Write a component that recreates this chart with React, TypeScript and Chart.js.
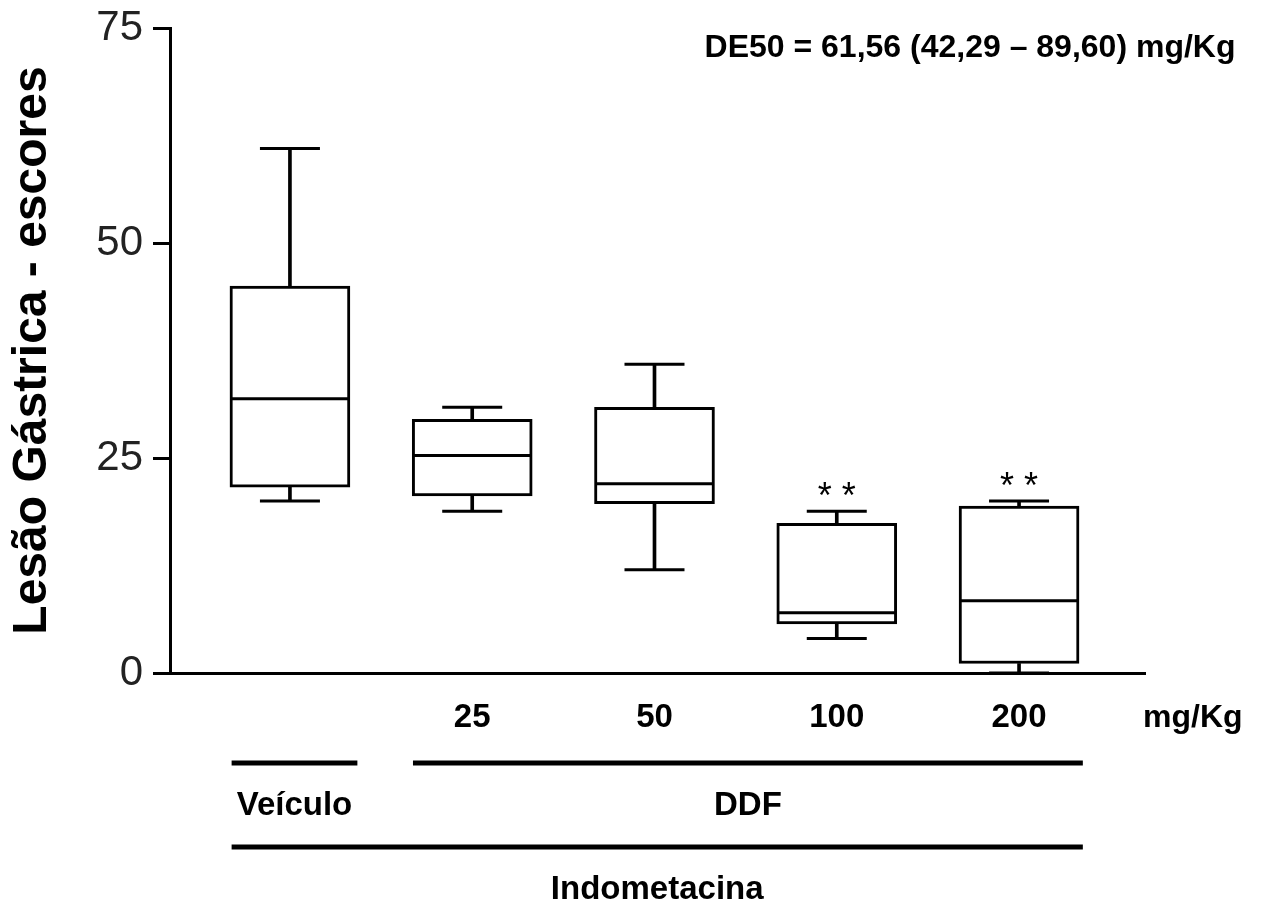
import React, { useEffect, useRef } from "react";
import { Chart, registerables } from "chart.js";

Chart.register(...registerables);

const FONT = "'Liberation Sans', Arial, Helvetica, sans-serif";

// ---- data ----
const groups = ["Veículo", "DDF 25", "DDF 50", "DDF 100", "DDF 200"];
const doseLabels = ["", "25", "50", "100", "200"];
const whiskerMax = [61.0, 30.9, 35.9, 18.8, 20.0];
const q3 = [45.0, 29.5, 30.9, 17.4, 19.4];
const median = [31.9, 25.3, 22.0, 7.0, 8.4];
const q1 = [21.6, 20.6, 19.7, 5.7, 1.1];
const whiskerMin = [20.0, 18.8, 12.0, 4.0, 0.0];
const significance = ["", "", "", "* *", "* *"];
const yTicks = [0, 25, 50, 75];
const yTitle = "Lesão Gástrica - escores";
const unitLabel = "mg/Kg";
const de50Text = "DE50 = 61,56 (42,29 – 89,60) mg/Kg";
const groupBrackets = [
  { label: "Veículo", from: 0.68, to: 1.37, row: 0 },
  { label: "DDF", from: 1.675, to: 5.35, row: 0 },
  { label: "Indometacina", from: 0.68, to: 5.35, row: 1 },
];

const positions = groups.map((_, i) => i + 1);

const annotationPlugin = {
  id: "annotations",
  afterDraw(chart: any) {
    const ctx = chart.ctx as CanvasRenderingContext2D;
    const xs = chart.scales.x;
    const ys = chart.scales.y;
    const area = chart.chartArea;
    ctx.save();
    ctx.fillStyle = "#000";
    ctx.strokeStyle = "#000";

    // DE50 text
    ctx.font = `bold 32px ${FONT}`;
    ctx.textAlign = "center";
    ctx.textBaseline = "alphabetic";
    ctx.fillText(de50Text, area.right - 175, area.top + 29);

    // significance asterisks
    ctx.font = `36px ${FONT}`;
    significance.forEach((s, i) => {
      if (!s) return;
      const x = xs.getPixelForValue(positions[i]);
      const y = ys.getPixelForValue(whiskerMax[i]) - 3;
      ctx.fillText(s, x, y);
    });

    // unit label
    ctx.font = `bold 32px ${FONT}`;
    ctx.textAlign = "left";
    ctx.fillText(unitLabel, area.right - 2, area.bottom + 54);

    // group brackets
    ctx.lineWidth = 5;
    ctx.textAlign = "center";
    groupBrackets.forEach((g) => {
      const x0 = xs.getPixelForValue(g.from);
      const x1 = xs.getPixelForValue(g.to);
      const lineY = area.bottom + 90 + g.row * 84;
      ctx.beginPath();
      ctx.moveTo(x0, lineY);
      ctx.lineTo(x1, lineY);
      ctx.stroke();
      ctx.font = `bold 33px ${FONT}`;
      ctx.fillText(g.label, (x0 + x1) / 2, lineY + 52);
    });
    ctx.restore();
  },
};

export default function App() {
  const canvasRef = useRef<HTMLCanvasElement | null>(null);

  useEffect(() => {
    if (!canvasRef.current) return;
    const chart = new Chart(canvasRef.current, {
      type: "bar",
      data: {
        datasets: [
          {
            type: "scatter",
            label: "median",
            data: positions.map((x, i) => ({ x, y: median[i] })),
            pointStyle: "line",
            pointRadius: 59,
            borderWidth: 3,
            borderColor: "#000",
            backgroundColor: "#000",
            clip: false,
          } as any,
          {
            type: "scatter",
            label: "caps",
            data: positions.flatMap((x, i) => [
              { x, y: whiskerMax[i] },
              { x, y: whiskerMin[i] },
            ]),
            pointStyle: "line",
            pointRadius: 30,
            borderWidth: 3,
            borderColor: "#000",
            backgroundColor: "#000",
            clip: false,
          } as any,
          {
            type: "bar",
            label: "box",
            data: positions.map((x, i) => ({ x, y: [q1[i], q3[i]] })),
            backgroundColor: "#fff",
            borderColor: "#000",
            borderWidth: 3,
            borderSkipped: false,
            barThickness: 120,
            grouped: false,
          } as any,
          {
            type: "bar",
            label: "upper whisker",
            data: positions.map((x, i) => ({ x, y: [q3[i], whiskerMax[i]] })),
            backgroundColor: "#000",
            borderWidth: 0,
            barThickness: 3,
            grouped: false,
          } as any,
          {
            type: "bar",
            label: "lower whisker",
            data: positions.map((x, i) => ({ x, y: [whiskerMin[i], q1[i]] })),
            backgroundColor: "#000",
            borderWidth: 0,
            barThickness: 3,
            grouped: false,
          } as any,
        ],
      },
      options: {
        responsive: false,
        animation: false,
        events: [],
        layout: { autoPadding: false, padding: { top: 28, right: 116, left: 0, bottom: 0 } },
        plugins: {
          legend: { display: false },
          tooltip: { enabled: false },
          title: { display: false },
        },
        scales: {
          x: {
            type: "linear",
            min: 0.342,
            max: 5.691,
            offset: false,
            afterBuildTicks: (s: any) => {
              s.ticks = positions.map((v) => ({ value: v }));
            },
            afterFit: (s: any) => {
              s.height = 231;
              s.paddingLeft = 0;
              s.paddingRight = 0;
            },
            ticks: {
              autoSkip: false,
              maxRotation: 0,
              padding: 25,
              color: "#000",
              font: { family: FONT, size: 33, weight: "bold" },
              callback: (v: any) => doseLabels[Math.round(Number(v)) - 1] ?? "",
            },
            grid: { display: false, drawTicks: false },
            border: { display: true, color: "#000", width: 3 },
          },
          y: {
            type: "linear",
            min: 0,
            max: 75,
            afterBuildTicks: (s: any) => {
              s.ticks = yTicks.map((v) => ({ value: v }));
            },
            afterFit: (s: any) => {
              s.width = 170;
              s.paddingTop = 0;
              s.paddingBottom = 0;
            },
            ticks: {
              padding: 10,
              color: "#222",
              font: { family: FONT, size: 42 },
            },
            grid: {
              drawOnChartArea: false,
              drawTicks: true,
              tickLength: 17,
              tickWidth: 3,
              tickColor: "#000",
              color: "#000",
            },
            border: { display: true, color: "#000", width: 3 },
            title: {
              display: true,
              text: yTitle,
              color: "#000",
              font: { family: FONT, size: 48, weight: "bold" },
              padding: { top: 4, bottom: 4 },
            },
          },
        },
      } as any,
      plugins: [annotationPlugin],
    });
    return () => chart.destroy();
  }, []);

  return (
    <div style={{ position: "absolute", left: 0, top: 0, width: 1261, height: 904, background: "#fff" }}>
      <canvas ref={canvasRef} width={1261} height={904} style={{ width: 1261, height: 904, display: "block" }} />
    </div>
  );
}
